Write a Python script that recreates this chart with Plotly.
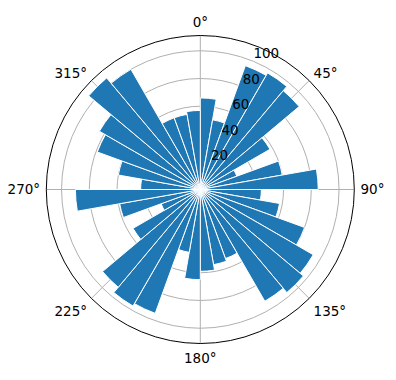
import plotly.graph_objects as go

# bar start angles (degrees, clockwise from north) and radii
bin_start = [i * 10 for i in range(36)]
bin_width = 10
radii = [66, 51, 95, 97, 93, 58, 28, 60, 85,
         44, 58, 80, 94, 97, 93, 53, 55, 59,
         65, 46, 95, 97, 92, 56, 30, 59, 90,
         43, 60, 79, 84, 105, 100, 55, 55, 57]
theta_ticks = [0, 45, 90, 135, 180, 225, 270, 315]
theta_labels = [f"{t}°" for t in theta_ticks]
r_ticks = [20, 40, 60, 80, 100]
r_tick_labels = [str(v) for v in r_ticks]
r_label_angle = 22.5
r_max = 111

theta_centers = [s + bin_width / 2 for s in bin_start]

font = dict(family="DejaVu Sans", size=13.5, color="black")

fig = go.Figure()
fig.add_trace(go.Barpolar(
    r=radii,
    theta=theta_centers,
    width=[bin_width] * len(radii),
    marker=dict(color="#1f77b4", line=dict(color="white", width=1)),
    opacity=1,
    hoverinfo="skip",
))
# radial tick labels (matplotlib style: left/bottom anchored at 22.5°)
fig.add_trace(go.Scatterpolar(
    r=r_ticks,
    theta=[r_label_angle] * len(r_ticks),
    mode="text",
    text=r_tick_labels,
    textposition="top right",
    textfont=font,
    hoverinfo="skip",
    cliponaxis=False,
))

fig.update_layout(
    width=396, height=380,
    margin=dict(l=0, r=0, t=0, b=0),
    paper_bgcolor="white",
    showlegend=False,
    font=font,
    polar=dict(
        domain=dict(x=[46.3 / 396, 354.3 / 396], y=[36.5 / 380, 344.5 / 380]),
        bgcolor="white",
        bargap=0,
        angularaxis=dict(
            rotation=90, direction="clockwise",
            tickmode="array", tickvals=theta_ticks, ticktext=theta_labels,
            showgrid=True, gridcolor="#b0b0b0", gridwidth=1,
            showline=True, linecolor="black", linewidth=1,
            ticks="outside", ticklen=3, tickcolor="rgba(0,0,0,0)",
            layer="above traces",
            tickfont=font,
        ),
        radialaxis=dict(
            range=[0, r_max], tickmode="array", tickvals=r_ticks,
            showticklabels=False,
            showgrid=True, gridcolor="#b0b0b0", gridwidth=1,
            showline=False, ticks="", angle=67.5,
            layer="above traces",
        ),
    ),
)

fig.write_html("out.html")
